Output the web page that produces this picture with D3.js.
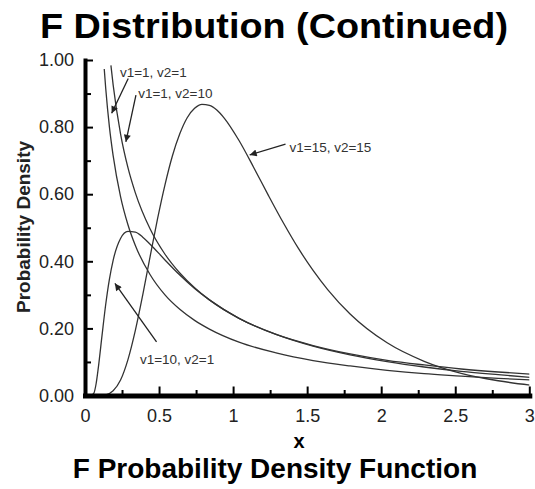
<!DOCTYPE html>
<html>
<head>
<meta charset="utf-8">
<script src="https://cdn.jsdelivr.net/npm/d3@7"></script>
<style>
  body { margin: 0; background: #fff; }
  svg { display: block; font-family: "Liberation Sans", Arial, sans-serif; }
</style>
</head>
<body>
<svg id="chart" width="535" height="489"></svg>
<script>
// curves (x, density); the plotted curves sit a little right of the axis ticks
const x_1_1 = [0.13, 0.14, 0.165, 0.19, 0.24, 0.29, 0.34, 0.44, 0.54, 0.64, 0.74, 0.84, 1.04, 1.29, 1.54, 1.79, 2.04, 2.29, 2.54, 2.79, 3.04];
const y_1_1 = [0.973, 0.915, 0.800, 0.715, 0.593, 0.509, 0.447, 0.360, 0.300, 0.257, 0.224, 0.198, 0.159, 0.127, 0.104, 0.088, 0.075, 0.065, 0.058, 0.051, 0.046];

const x_1_10 = [0.175, 0.19, 0.24, 0.29, 0.34, 0.44, 0.54, 0.64, 0.74, 0.84, 1.04, 1.29, 1.54, 1.79, 2.04, 2.29, 2.54, 2.79, 3.04];
const y_1_10 = [0.984, 0.926, 0.780, 0.679, 0.604, 0.496, 0.421, 0.365, 0.321, 0.285, 0.230, 0.182, 0.147, 0.121, 0.101, 0.085, 0.072, 0.062, 0.053];

const x_15_15 = [0.09, 0.14, 0.19, 0.24, 0.29, 0.34, 0.39, 0.44, 0.49, 0.54, 0.59, 0.64, 0.69, 0.74, 0.79, 0.84, 0.89, 0.94, 1.04, 1.14, 1.24, 1.34, 1.44, 1.54, 1.64, 1.79, 2.04, 2.29, 2.54, 2.79, 3.04];
const y_15_15 = [0.000, 0.002, 0.014, 0.046, 0.107, 0.194, 0.300, 0.415, 0.527, 0.628, 0.714, 0.780, 0.828, 0.856, 0.868, 0.865, 0.851, 0.827, 0.760, 0.679, 0.595, 0.514, 0.439, 0.373, 0.315, 0.243, 0.157, 0.102, 0.066, 0.044, 0.029];

const x_10_1 = [0.04, 0.06, 0.075, 0.09, 0.115, 0.14, 0.165, 0.19, 0.24, 0.29, 0.34, 0.39, 0.44, 0.54, 0.64, 0.74, 0.84, 1.04, 1.29, 1.54, 1.79, 2.04, 2.29, 2.54, 2.79, 3.04];
const y_10_1 = [0.000, 0.007, 0.035, 0.083, 0.179, 0.272, 0.347, 0.403, 0.468, 0.489, 0.487, 0.472, 0.451, 0.404, 0.359, 0.319, 0.285, 0.230, 0.182, 0.149, 0.124, 0.105, 0.091, 0.079, 0.070, 0.063];

const seriesNames = ["v1=1, v2=1", "v1=1, v2=10", "v1=15, v2=15", "v1=10, v2=1"];

const xTicks = [0, 0.5, 1, 1.5, 2, 2.5, 3];
const xTickLabels = ["0", "0.5", "1", "1.5", "2", "2.5", "3"];
const xMinorTicks = [0.25, 0.75, 1.25, 1.75, 2.25, 2.75];
const yTicks = [0, 0.2, 0.4, 0.6, 0.8, 1.0];
const yMinorTicks = [0.1, 0.3, 0.5, 0.7, 0.9];

const svg = d3.select("#chart");

const x = d3.scaleLinear().domain([0, 3]).range([85, 529.3]);
const y = d3.scaleLinear().domain([0, 1]).range([395.5, 60]);

// titles
svg.append("text")
    .attr("x", 274)
    .attr("y", 38)
    .attr("text-anchor", "middle")
    .attr("textLength", 468)
    .attr("lengthAdjust", "spacingAndGlyphs")
    .style("font-size", "35px")
    .style("font-weight", "bold")
    .text("F Distribution (Continued)");

svg.append("text")
    .attr("x", 275)
    .attr("y", 478)
    .attr("text-anchor", "middle")
    .style("font-size", "28px")
    .style("font-weight", "bold")
    .text("F Probability Density Function");

// axis labels
svg.append("text")
    .attr("x", 299)
    .attr("y", 448)
    .attr("text-anchor", "middle")
    .style("font-size", "20px")
    .style("font-weight", "bold")
    .text("x");

svg.append("text")
    .attr("transform", "translate(30,227) rotate(-90)")
    .attr("text-anchor", "middle")
    .style("font-size", "19px")
    .style("font-weight", "bold")
    .style("fill", "#222")
    .text("Probability Density");

// curves
svg.append("clipPath").attr("id", "plot-clip")
    .append("rect")
    .attr("x", x(0)).attr("y", y(1))
    .attr("width", x(3) - x(0)).attr("height", y(0) - y(1));

const series = [
    { name: seriesNames[0], xs: x_1_1, ys: y_1_1 },
    { name: seriesNames[1], xs: x_1_10, ys: y_1_10 },
    { name: seriesNames[2], xs: x_15_15, ys: y_15_15 },
    { name: seriesNames[3], xs: x_10_1, ys: y_10_1 }
];

const line = d3.line()
    .x(d => x(d[0]))
    .y(d => y(d[1]))
    .curve(d3.curveMonotoneX);

svg.append("g")
    .attr("clip-path", "url(#plot-clip)")
    .selectAll("path")
    .data(series)
    .join("path")
    .attr("d", s => line(d3.zip(s.xs, s.ys)))
    .attr("fill", "none")
    .attr("stroke", "#333")
    .attr("stroke-width", 1.3);

// axes
const xAxis = svg.append("g")
    .attr("transform", `translate(0,${y(0)})`)
    .call(d3.axisBottom(x)
        .tickValues(xTicks)
        .tickFormat((d, i) => xTickLabels[i])
        .tickSize(-9)
        .tickSizeOuter(0)
        .tickPadding(14));

svg.append("g")
    .attr("transform", `translate(0,${y(0)})`)
    .call(d3.axisBottom(x)
        .tickValues(xMinorTicks)
        .tickFormat("")
        .tickSize(-5.5)
        .tickSizeOuter(0))
    .select(".domain").remove();

const yAxis = svg.append("g")
    .attr("transform", `translate(${x(0)},0)`)
    .call(d3.axisLeft(y)
        .tickValues(yTicks)
        .tickFormat(d3.format(".2f"))
        .tickSize(-8)
        .tickSizeOuter(0)
        .tickPadding(11));

svg.append("g")
    .attr("transform", `translate(${x(0)},0)`)
    .call(d3.axisLeft(y)
        .tickValues(yMinorTicks)
        .tickFormat("")
        .tickSize(-6)
        .tickSizeOuter(0))
    .select(".domain").remove();

svg.selectAll(".tick line").attr("stroke", "#000").attr("stroke-width", 2);
xAxis.select(".domain").attr("stroke-width", 5).attr("stroke-linecap", "square");
yAxis.select(".domain").attr("stroke-width", 4).attr("stroke-linecap", "square");
svg.selectAll(".tick text")
    .style("font-size", "18px")
    .style("font-family", "'Liberation Sans', Arial, sans-serif")
    .attr("fill", "#222");

// annotations: arrow tail, arrow tip, label start (data units)
const notes = [
    { label: seriesNames[0], tail: [0.292, 0.945], tip: [0.180, 0.841], at: [0.236, 0.949] },
    { label: seriesNames[1], tail: [0.344, 0.895], tip: [0.276, 0.756], at: [0.359, 0.887] },
    { label: seriesNames[2], tail: [1.354, 0.749], tip: [1.112, 0.717], at: [1.381, 0.726] },
    { label: seriesNames[3], tail: [0.483, 0.160], tip: [0.202, 0.334], at: [0.371, 0.095] }
];

svg.append("defs").append("marker")
    .attr("id", "head")
    .attr("viewBox", "0 0 10 10")
    .attr("refX", 10).attr("refY", 5)
    .attr("markerWidth", 10).attr("markerHeight", 7)
    .attr("markerUnits", "userSpaceOnUse")
    .attr("orient", "auto")
    .append("path")
    .attr("d", "M0,0 L10,5 L0,10 Z")
    .attr("fill", "#222");

const ann = svg.append("g");
ann.selectAll("line")
    .data(notes)
    .join("line")
    .attr("x1", d => x(d.tail[0]))
    .attr("y1", d => y(d.tail[1]))
    .attr("x2", d => x(d.tip[0]))
    .attr("y2", d => y(d.tip[1]))
    .attr("stroke", "#222")
    .attr("stroke-width", 1.3)
    .attr("marker-end", "url(#head)");

ann.selectAll("text")
    .data(notes)
    .join("text")
    .attr("x", d => x(d.at[0]))
    .attr("y", d => y(d.at[1]))
    .text(d => d.label)
    .style("font-size", "13.5px")
    .attr("fill", "#333");
</script>
</body>
</html>
